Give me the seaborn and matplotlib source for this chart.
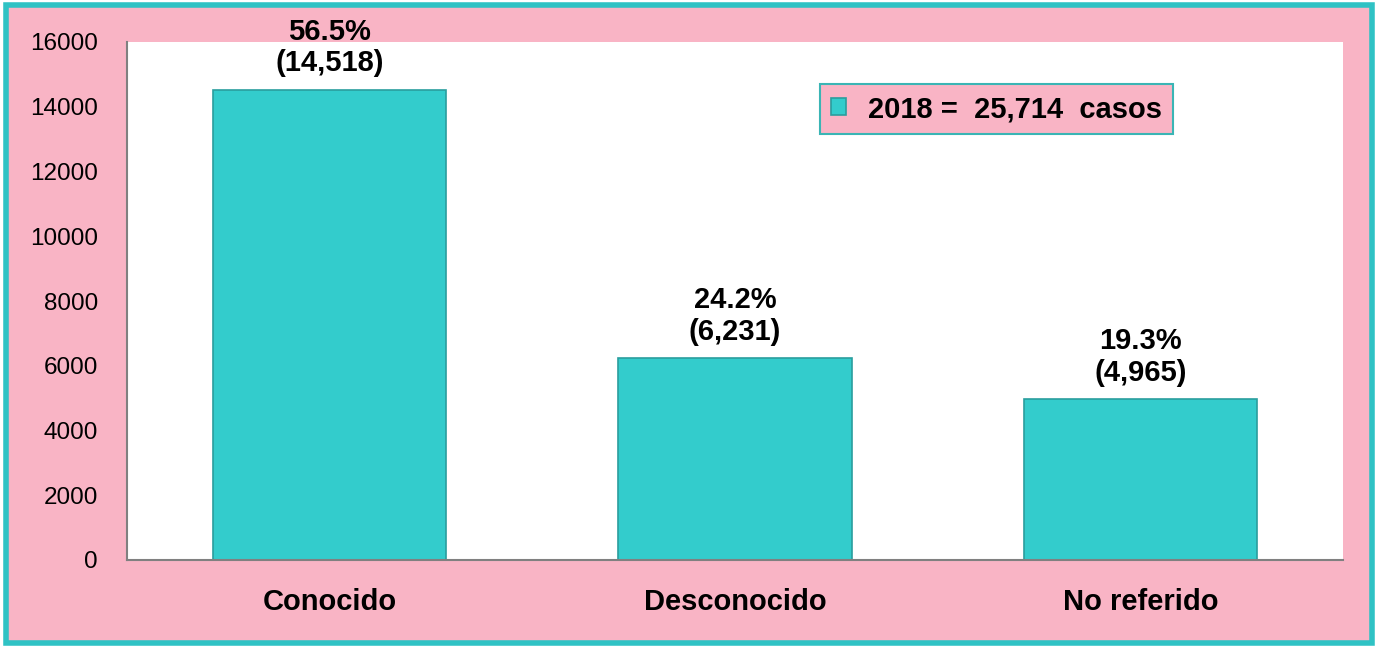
import numpy as np
import pandas as pd
import matplotlib.pyplot as plt
import seaborn as sns
from matplotlib.patches import Rectangle

# Data
categorias = ["Conocido", "Desconocido", "No referido"]
casos = [14518, 6231, 4965]
anio = "2018"
total = sum(casos)

df = pd.DataFrame({"categoria": categorias, "casos": casos})

# Colors
pink = "#F9B4C5"
teal = "#33CCCC"
border = "#2FC2C4"

sns.set_style("white")
plt.rcParams["font.family"] = ["Liberation Sans", "DejaVu Sans"]
plt.rcParams["text.color"] = "black"
plt.rcParams["xtick.color"] = "black"
plt.rcParams["ytick.color"] = "black"
plt.rcParams["xtick.labelcolor"] = "black"
plt.rcParams["ytick.labelcolor"] = "black"

fig = plt.figure(figsize=(13.77, 6.46), dpi=100)
fig.patch.set_facecolor("white")
# pink background with teal frame
fig.patches.append(Rectangle((6 / 1377, 3 / 646), 1366 / 1377, 638 / 646,
                             transform=fig.transFigure, facecolor=pink,
                             edgecolor=border, linewidth=4, zorder=-1))

ax = fig.add_axes([127 / 1377, 86 / 646, 1216 / 1377, 518 / 646])
ax.set_facecolor("white")

sns.barplot(data=df, x="categoria", y="casos", color=teal, width=0.575,
            edgecolor="#2A9E9E", linewidth=1.2, saturation=1,
            label=f"{anio} =  {total:,}  casos", ax=ax)

for i, v in enumerate(casos):
    ax.annotate(f"{v / total * 100:.1f}%\n({v:,})", xy=(i, v), xytext=(0, 9),
                textcoords="offset points", ha="center", va="bottom",
                fontsize=21, fontweight="bold", linespacing=1.15,
                color="black", annotation_clip=False)

ax.set_ylim(0, 16000)
ax.set_yticks(np.arange(0, 16001, 2000))
ax.set_xlim(-0.5, 2.5)
ax.set_xlabel("")
ax.set_ylabel("")
ax.tick_params(axis="y", labelsize=17.5, length=0, pad=21)
ax.tick_params(axis="x", labelsize=21, length=0, pad=20)
for lab in ax.get_xticklabels():
    lab.set_fontweight("bold")

for s in ["top", "right"]:
    ax.spines[s].set_visible(False)
for s in ["left", "bottom"]:
    ax.spines[s].set_color("#808080")
    ax.spines[s].set_linewidth(1.5)

leg = ax.legend(loc="upper left", bbox_to_anchor=(0.570, 0.919), borderaxespad=0,
                fancybox=False, framealpha=1, facecolor=pink, edgecolor="#3AB5B5",
                prop={"size": 21, "weight": "bold"}, handlelength=0.5,
                handleheight=0.5, handletextpad=0.75, borderpad=0.38)
leg.get_frame().set_linewidth(1.5)
for t in leg.get_texts():
    t.set_color("black")

fig.savefig("out.png", dpi=100, facecolor=fig.get_facecolor())
